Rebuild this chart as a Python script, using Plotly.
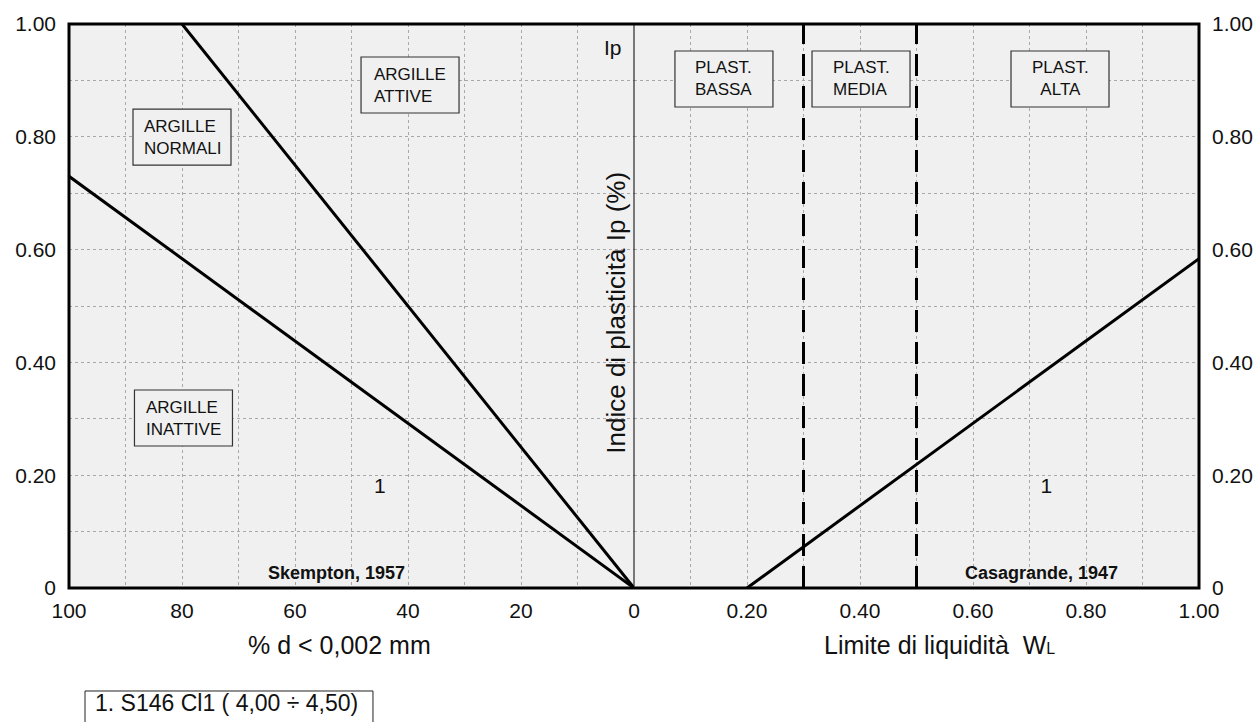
import plotly.graph_objects as go

# ---------------- data ----------------
# Skempton (1957) activity chart (left half): % clay fraction vs Ip
active_limit_clay = [0, 80]
active_limit_ip = [0.0, 1.00]
inactive_limit_clay = [0, 100]
inactive_limit_ip = [0.0, 0.73]

# Casagrande (1947) chart (right half): liquid limit vs Ip
aline_wl = [0.20, 1.00]
aline_ip = [0.0, 0.584]
plasticity_limits_wl = [0.30, 0.50]

# sample
sample_ids = ["1"]
sample_clay = [45]
sample_wl = [0.73]
sample_ip = [0.177]
sample_legend = ["1. S146 Cl1 ( 4,00 ÷ 4,50)"]

left_tickvals = [100, 80, 60, 40, 20, 0]
left_ticktext = ["100", "80", "60", "40", "20", "0"]
right_tickvals = [0.2, 0.4, 0.6, 0.8, 1.0]
right_ticktext = ["0.20", "0.40", "0.60", "0.80", "1.00"]
y_tickvals = [0, 0.2, 0.4, 0.6, 0.8, 1.0]
y_ticktext = ["0", "0.20", "0.40", "0.60", "0.80", "1.00"]

FONT = "Liberation Sans, Arial, sans-serif"
GRID = "#a8a8a8"
BG = "#f0f0f0"

fig = go.Figure()

line_style = dict(color="black", width=3)
fig.add_trace(go.Scatter(x=active_limit_clay, y=active_limit_ip, mode="lines",
                         line=line_style, xaxis="x", yaxis="y", hoverinfo="skip"))
fig.add_trace(go.Scatter(x=inactive_limit_clay, y=inactive_limit_ip, mode="lines",
                         line=line_style, xaxis="x", yaxis="y", hoverinfo="skip"))
fig.add_trace(go.Scatter(x=aline_wl, y=aline_ip, mode="lines",
                         line=line_style, xaxis="x2", yaxis="y2", hoverinfo="skip"))
for wl in plasticity_limits_wl:
    fig.add_trace(go.Scatter(x=[wl, wl], y=[0, 1], mode="lines",
                             line=dict(color="black", width=3, dash="22px,10px"),
                             xaxis="x2", yaxis="y2", hoverinfo="skip"))

# sample markers (numbers)
fig.add_trace(go.Scatter(x=sample_clay, y=sample_ip, mode="text", text=sample_ids,
                         textfont=dict(size=21, color="#111", family=FONT),
                         xaxis="x", yaxis="y"))
fig.add_trace(go.Scatter(x=sample_wl, y=sample_ip, mode="text", text=sample_ids,
                         textfont=dict(size=21, color="#111", family=FONT),
                         xaxis="x2", yaxis="y2"))

grid_common = dict(showgrid=True, gridcolor=GRID, griddash="dot", gridwidth=1,
                   zeroline=False, showline=False, ticks="", automargin=False,
                   tickfont=dict(size=21, color="#111", family=FONT))

fig.update_layout(
    width=1257, height=722,
    margin=dict(l=69, r=58, t=24, b=134),
    paper_bgcolor="white", plot_bgcolor=BG,
    showlegend=False,
    xaxis=dict(domain=[0, 0.5], range=[100, 0], tickvals=left_tickvals,
               ticktext=left_ticktext, anchor="y",
               minor=dict(dtick=10, showgrid=True, gridcolor=GRID, griddash="dot"),
               ticklabelstandoff=8, **grid_common),
    yaxis=dict(domain=[0, 1], range=[0, 1], tickvals=y_tickvals, ticktext=y_ticktext,
               anchor="x",
               minor=dict(dtick=0.1, showgrid=True, gridcolor=GRID, griddash="dot"),
               ticklabelstandoff=12, **grid_common),
    xaxis2=dict(domain=[0.5, 1], range=[0, 1], tickvals=right_tickvals,
                ticktext=right_ticktext, anchor="y2",
                minor=dict(dtick=0.1, showgrid=True, gridcolor=GRID, griddash="dot"),
                ticklabelstandoff=8, **grid_common),
    yaxis2=dict(domain=[0, 1], range=[0, 1], tickvals=y_tickvals, ticktext=y_ticktext,
                anchor="x2", side="right",
                minor=dict(dtick=0.1, showgrid=True, gridcolor=GRID, griddash="dot"),
                ticklabelstandoff=12, **grid_common),
)

# plot frame and central axis
fig.add_shape(type="rect", xref="paper", yref="paper", x0=0, x1=1, y0=0, y1=1,
              line=dict(color="black", width=3), layer="above")
fig.add_shape(type="line", xref="paper", yref="paper", x0=0.5, x1=0.5, y0=0, y1=1,
              line=dict(color="black", width=1), layer="above")

# zone label boxes: (text, paper x centre, paper y centre, align)
boxes = [
    ("ARGILLE<br>NORMALI", 0.100, 0.7996, "left"),
    ("ARGILLE<br>ATTIVE", 0.3018, 0.8918, "left"),
    ("ARGILLE<br>INATTIVE", 0.1013, 0.3014, "left"),
    ("PLAST.<br>BASSA", 0.5796, 0.9025, "left"),
    ("PLAST.<br>MEDIA", 0.7009, 0.9025, "left"),
    ("PLAST.<br>ALTA", 0.8770, 0.9025, "center"),
]
for txt, cx, cy, al in boxes:
    fig.add_shape(type="rect", xref="paper", yref="paper",
                  xsizemode="pixel", ysizemode="pixel", xanchor=cx, yanchor=cy,
                  x0=-49, x1=49, y0=-28, y1=28,
                  line=dict(color="#333", width=1.2), fillcolor=BG, layer="above")
    fig.add_annotation(text=txt, xref="paper", yref="paper", x=cx, y=cy,
                       xanchor="center", yanchor="middle", align=al, showarrow=False,
                       font=dict(size=17, color="#111", family=FONT))

annots = [
    dict(text="% d &lt; 0,002 mm", x=0.239, y=-0.101, size=25),
    dict(text="Limite di liquidità  W<span style='font-size:16px'>L</span>",
         x=0.770, y=-0.101, size=25),
    dict(text="Ip", x=0.4814, y=0.959, size=21),
    dict(text="<b>Skempton, 1957</b>", x=0.2363, y=0.0266, size=18),
    dict(text="<b>Casagrande, 1947</b>", x=0.861, y=0.0266, size=18),
]
for a in annots:
    fig.add_annotation(text=a["text"], xref="paper", yref="paper", x=a["x"], y=a["y"],
                       xanchor="center", yanchor="middle", showarrow=False,
                       font=dict(size=a["size"], color="#111", family=FONT))

fig.add_annotation(text="Indice di plasticità Ip (%)", xref="paper", yref="paper",
                   x=0.4845, y=0.489, textangle=-90, xanchor="center", yanchor="middle",
                   showarrow=False, font=dict(size=26, color="#111", family=FONT))

# sample legend box (frame runs past the bottom edge, as in the reference)
fig.add_shape(type="rect", xref="paper", yref="paper",
              x0=0.01416, x1=0.269, y0=-0.1826, y1=-0.2518,
              line=dict(color="#222", width=1), fillcolor="white", layer="above")
fig.add_annotation(text=sample_legend[0], xref="paper", yref="paper",
                   x=0.0212, y=-0.2039, xanchor="left", yanchor="middle",
                   showarrow=False, font=dict(size=23, color="#111", family=FONT))

fig.write_html("out.html")
